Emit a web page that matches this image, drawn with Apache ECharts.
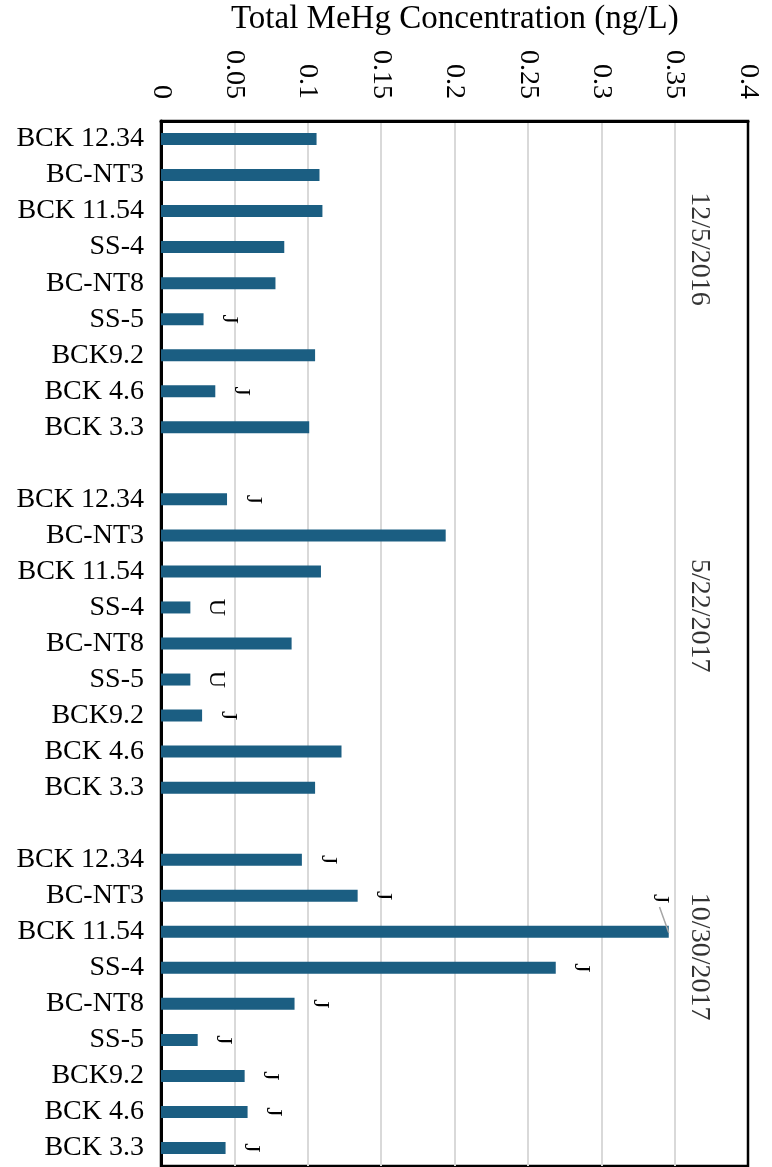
<!DOCTYPE html>
<html>
<head>
<meta charset="utf-8">
<script src="https://cdn.jsdelivr.net/npm/echarts@6/dist/echarts.min.js"></script>
<style>
  html, body { margin: 0; padding: 0; background: #ffffff; }
  #chart { width: 772px; height: 1167px; }
</style>
</head>
<body>
<div id="chart"></div>
<script>
// Sampling sites, listed top to bottom within each sampling event
const sites = ['BCK 12.34', 'BC-NT3', 'BCK 11.54', 'SS-4', 'BC-NT8', 'SS-5', 'BCK9.2', 'BCK 4.6', 'BCK 3.3'];
const sampleDates = ['12/5/2016', '5/22/2017', '10/30/2017'];

// Total MeHg concentration (ng/L) per site
const meHgDec2016 = [0.106, 0.108, 0.110, 0.084, 0.078, 0.029, 0.105, 0.037, 0.101];
const meHgMay2017 = [0.045, 0.194, 0.109, 0.020, 0.089, 0.020, 0.028, 0.123, 0.105];
const meHgOct2017 = [0.096, 0.134, 0.346, 0.269, 0.091, 0.025, 0.057, 0.059, 0.044];

// Data qualifiers (J = estimated, U = not detected)
const flagsDec2016 = ['', '', '', '', '', 'J', '', 'J', ''];
const flagsMay2017 = ['J', '', '', 'U', '', 'U', 'J', '', ''];
const flagsOct2017 = ['J', 'J', 'J', 'J', 'J', 'J', 'J', 'J', 'J'];

// Value-axis ticks
const xMin = 0, xMax = 0.4, xStep = 0.05;

// ---- layout helpers (not data) ----
const SERIF = '"Liberation Serif", "Times New Roman", serif';
const BAR_COLOR = '#1b5e82';
const dateLabelX = 0.367;                   // value-axis position of the event labels
const dateLabelRows = [3.55, 13.73, 23.19]; // row positions of the event labels
const leaderLabel = { group: 2, site: 2 };  // qualifier pulled off the long bar with a guide line
// guide line bends, as offsets from the bar end (value units, row units)
const leaderBends = [[0, 0.03], [-0.0036, -0.38], [-0.0063, -0.69]];

const groups = [
  { values: meHgDec2016, flags: flagsDec2016 },
  { values: meHgMay2017, flags: flagsMay2017 },
  { values: meHgOct2017, flags: flagsOct2017 }
];

// Build the row list: three blocks of sites with one empty row between blocks
const rowLabels = [];
const rowData = [];
let leaderRow = -1;
groups.forEach((g, gi) => {
  if (gi > 0) {
    rowLabels.push('');
    rowData.push({ value: null, flag: '' });
  }
  sites.forEach((s, si) => {
    if (gi === leaderLabel.group && si === leaderLabel.site) leaderRow = rowData.length;
    rowLabels.push(s);
    rowData.push({ value: g.values[si], flag: g.flags[si] });
  });
});

const barData = rowData.map((r) => ({
  value: r.value,
  flag: r.flag,
  label: { show: r.flag !== '' }
}));

// Guide line from the end of the long bar up to its moved qualifier
const leaderEnd = rowData[leaderRow].value;
const leaderPoints = leaderBends.map(([dv, dr]) => [leaderEnd + dv, leaderRow + 0.5 + dr]);

const chart = echarts.init(document.getElementById('chart'), null, { renderer: 'canvas' });

chart.setOption({
  animation: false,
  backgroundColor: '#ffffff',
  title: {
    text: 'Total MeHg Concentration (ng/L)',
    left: 231,
    top: 3,
    padding: 0,
    textStyle: { fontFamily: SERIF, fontSize: 33, fontWeight: 'normal', color: '#000000' }
  },
  grid: {
    left: 161,
    right: 24,
    top: 121,
    bottom: 1,
    containLabel: false,
    outerBoundsMode: 'none',
    show: true,
    borderColor: '#000000',
    borderWidth: 2.5,
    backgroundColor: 'transparent'
  },
  xAxis: {
    type: 'value',
    position: 'top',
    min: xMin,
    max: xMax,
    interval: xStep,
    axisLine: { show: true, lineStyle: { color: '#000000', width: 3 } },
    axisTick: { show: false },
    axisLabel: {
      rotate: -90,
      margin: 22,
      fontFamily: SERIF,
      fontSize: 28,
      color: '#000000',
      showMinLabel: true,
      showMaxLabel: true
    },
    splitLine: {
      show: true,
      showMinLine: false,
      showMaxLine: false,
      lineStyle: { color: '#d9d9d9', width: 2 }
    }
  },
  yAxis: [
    {
      type: 'category',
      data: rowLabels,
      inverse: true,
      axisLine: { show: true, lineStyle: { color: '#000000', width: 3 } },
      axisTick: { show: false },
      axisLabel: {
        interval: 0,
        margin: 17,
        fontFamily: SERIF,
        fontSize: 28,
        color: '#000000'
      },
      splitLine: { show: false }
    },
    {
      type: 'value',
      min: 0,
      max: rowLabels.length,
      inverse: true,
      show: false,
      splitLine: { show: false }
    }
  ],
  series: [
    {
      type: 'bar',
      xAxisIndex: 0,
      yAxisIndex: 0,
      data: barData,
      barWidth: 12,
      itemStyle: { color: BAR_COLOR },
      label: {
        position: 'right',
        distance: 14,
        rotate: -90,
        align: 'center',
        verticalAlign: 'bottom',
        fontFamily: SERIF,
        fontSize: 24,
        color: '#000000',
        formatter: (p) => p.data.flag
      },
      // offsets are in the rotated label frame: dx runs down the page, dy runs leftwards
      labelLayout: (p) => {
        if (p.dataIndex === leaderRow) {
          return { dx: -33, dy: 34 };
        }
        return {};
      },
      silent: true
    },
    {
      type: 'line',
      xAxisIndex: 0,
      yAxisIndex: 1,
      data: leaderPoints,
      symbol: 'none',
      silent: true,
      z: 3,
      lineStyle: { color: '#a6a6a6', width: 1.5 }
    },
    {
      type: 'scatter',
      xAxisIndex: 0,
      yAxisIndex: 1,
      symbolSize: 0,
      silent: true,
      data: sampleDates.map((d, i) => ({ name: d, value: [dateLabelX, dateLabelRows[i]] })),
      label: {
        show: true,
        position: 'inside',
        rotate: -90,
        align: 'center',
        verticalAlign: 'middle',
        fontFamily: SERIF,
        fontSize: 28,
        color: '#000000',
        formatter: '{b}'
      }
    }
  ]
});
</script>
</body>
</html>
